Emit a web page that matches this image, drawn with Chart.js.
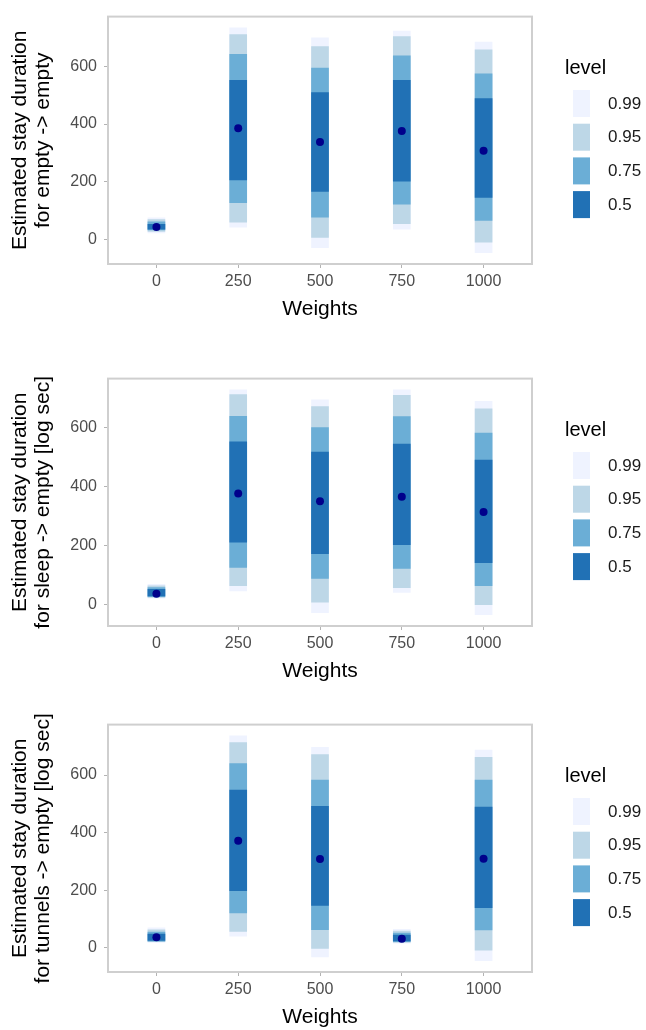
<!DOCTYPE html>
<html>
<head>
<meta charset="utf-8">
<script src="https://cdn.jsdelivr.net/npm/chart.js@4.4.1/dist/chart.umd.min.js"></script>
<style>
  html, body { margin: 0; padding: 0; background: #fff; }
  body { width: 646px; height: 1030px; position: relative; overflow: hidden; }
  .panel { position: absolute; left: 0; width: 646px; height: 322px; }
</style>
</head>
<body>
<div class="panel" style="top:0"><canvas id="c1" width="646" height="322"></canvas></div>
<div class="panel" style="top:362px"><canvas id="c2" width="646" height="322"></canvas></div>
<div class="panel" style="top:708px"><canvas id="c3" width="646" height="322"></canvas></div>
<script>
const weights = [0, 250, 500, 750, 1000];
const levels = ['0.99', '0.95', '0.75', '0.5'];
const levelColors = ['#eff3ff', '#bdd7e7', '#6baed6', '#2171b5'];
const xTicks = [0, 250, 500, 750, 1000];
const yTicks = [0, 200, 400, 600];

// empty -> empty : [lower, upper] per weight
const empty99 = [[22, 74], [42, 734], [-29, 699], [35, 723], [-47, 685]];
const empty95 = [[27, 68], [59, 711], [6, 669], [54, 704], [-10, 658]];
const empty75 = [[32, 60], [127, 642], [77, 594], [122, 637], [65, 574]];
const empty50 = [[35, 52], [206, 552], [166, 509], [202, 552], [145, 488]];
const emptyMean = [42, 385, 338, 376, 307];

// sleep -> empty
const sleep99 = [[20, 67], [45, 727], [-29, 693], [40, 727], [-36, 688]];
const sleep95 = [[23, 62], [63, 711], [7, 670], [56, 708], [-2, 663]];
const sleep75 = [[25, 56], [125, 637], [87, 599], [121, 636], [63, 580]];
const sleep50 = [[28, 50], [210, 551], [171, 516], [202, 543], [141, 489]];
const sleepMean = [35, 375, 349, 364, 313];

// tunnels -> empty
const tunnels99 = [[19, 69], [40, 736], [-32, 696], [16, 64], [-45, 687]];
const tunnels95 = [[21, 62], [57, 713], [-2, 671], [19, 58], [-8, 661]];
const tunnels75 = [[23, 55], [121, 640], [63, 582], [21, 51], [62, 582]];
const tunnels50 = [[26, 48], [198, 548], [147, 491], [24, 44], [139, 489]];
const tunnelsMean = [37, 372, 308, 31, 309];

const FONT = '"Liberation Sans", Arial, Helvetica, sans-serif';
Chart.defaults.font.family = FONT;

// panel border + legend
const framePlugin = {
  id: 'frame',
  afterDraw(chart) {
    const { ctx, chartArea: a } = chart;
    ctx.save();
    ctx.strokeStyle = '#cfcfcf';
    ctx.lineWidth = 2;
    ctx.strokeRect(a.left, a.top, a.right - a.left, a.bottom - a.top);

    ctx.fillStyle = '#000';
    ctx.textAlign = 'left';
    ctx.textBaseline = 'middle';
    ctx.font = '20px ' + FONT;
    ctx.fillText('level', 565, 68);
    ctx.font = '17px ' + FONT;
    levels.forEach((lv, i) => {
      const y = 90 + i * 33.7;
      ctx.fillStyle = levelColors[i];
      ctx.fillRect(573, y, 17, 27);
      ctx.fillStyle = '#1a1a1a';
      ctx.fillText(lv, 608, y + 14);
    });
    ctx.restore();
  }
};

function makeChart(id, yTitle, bands, mean) {
  const lows = bands[0].map(b => b[0]);
  const highs = bands[0].map(b => b[1]);
  const lo = Math.min(...lows), hi = Math.max(...highs);
  const pad = (hi - lo) * 0.05;

  const datasets = bands.map((band, i) => ({
    type: 'bar',
    label: levels[i],
    data: weights.map((w, j) => ({ x: w, y: band[j] })),
    backgroundColor: levelColors[i],
    borderWidth: 0,
    barThickness: 17,
    grouped: false,
    order: 4 - i
  }));
  datasets.push({
    type: 'scatter',
    label: 'mean',
    data: weights.map((w, j) => ({ x: w, y: mean[j] })),
    backgroundColor: '#00008b',
    borderWidth: 0,
    pointRadius: 4,
    order: 0
  });

  const tickGrid = {
    display: true,
    drawOnChartArea: false,
    drawTicks: true,
    tickLength: 4,
    color: '#b3b3b3',
    offset: false
  };

  new Chart(document.getElementById(id), {
    type: 'bar',
    data: { datasets },
    plugins: [framePlugin],
    options: {
      responsive: false,
      animation: false,
      layout: { padding: { left: 0, top: 14, right: 114, bottom: 0 } },
      plugins: { legend: { display: false }, tooltip: { enabled: false } },
      scales: {
        x: {
          type: 'linear',
          min: -148,
          max: 1148,
          offset: false,
          grid: tickGrid,
          border: { display: false },
          ticks: {
            font: { size: 16 }, color: '#4d4d4d', padding: 4, maxRotation: 0,
            callback: v => String(v)
          },
          afterBuildTicks: s => { s.ticks = xTicks.map(v => ({ value: v })); },
          afterFit: s => { s.height = 58; },
          title: {
            display: true,
            text: 'Weights',
            color: '#000',
            font: { size: 21, lineHeight: 1.2 },
            padding: 0
          }
        },
        y: {
          type: 'linear',
          min: lo - pad,
          max: hi + pad,
          grid: tickGrid,
          border: { display: false },
          ticks: { font: { size: 16 }, color: '#4d4d4d', padding: 7, callback: v => String(v) },
          afterBuildTicks: s => { s.ticks = yTicks.map(v => ({ value: v })); },
          afterFit: s => { s.width = 108; },
          title: {
            display: true,
            text: yTitle,
            color: '#000',
            font: { size: 21, lineHeight: 1.1 },
            padding: { top: 9, bottom: 0 }
          }
        }
      }
    }
  });
}

makeChart('c1', ['Estimated stay duration', 'for empty -> empty'],
  [empty99, empty95, empty75, empty50], emptyMean);
makeChart('c2', ['Estimated stay duration', 'for sleep -> empty [log sec]'],
  [sleep99, sleep95, sleep75, sleep50], sleepMean);
makeChart('c3', ['Estimated stay duration', 'for tunnels -> empty [log sec]'],
  [tunnels99, tunnels95, tunnels75, tunnels50], tunnelsMean);
</script>
</body>
</html>
